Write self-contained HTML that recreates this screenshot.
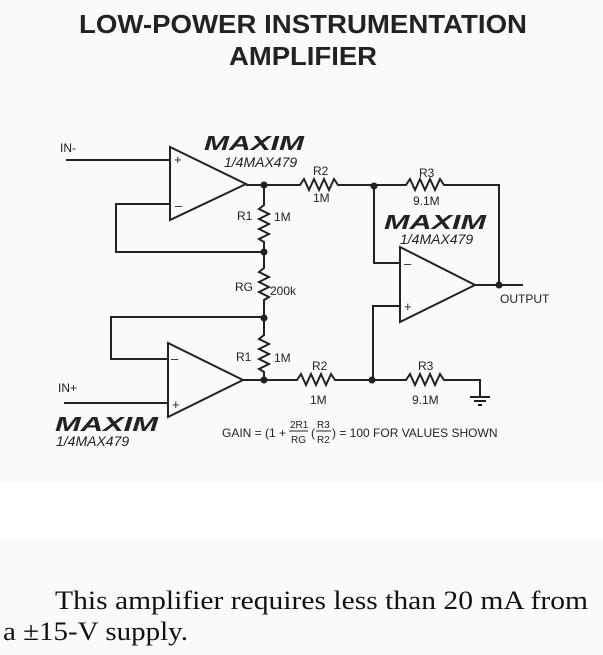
<!DOCTYPE html>
<html><head><meta charset="utf-8"><style>
html,body{margin:0;padding:0;}
body{width:603px;height:655px;position:relative;background:#fafafa;overflow:hidden;}
</style></head><body>
<div style="position:absolute;left:0;top:482px;width:603px;height:56px;background:#fff"></div>
<svg width="603" height="655" style="position:absolute;left:0;top:0" font-family="Liberation Sans, sans-serif">
<g font-weight="bold" fill="#222" font-size="26">
<text x="303" y="33" text-anchor="middle" textLength="448" lengthAdjust="spacingAndGlyphs">LOW-POWER INSTRUMENTATION</text>
<text x="303" y="65" text-anchor="middle" textLength="148" lengthAdjust="spacingAndGlyphs">AMPLIFIER</text>
</g>
<g stroke="#222" stroke-width="2" fill="none" stroke-linejoin="miter">
<path d="M170 147 L170 220 L246 184 Z"/>
<path d="M66 160 H170"/>
<path d="M170 204 H116 V252 H264"/>
<path d="M246 185 H264 V205 l-5 4 l10 5 l-10 5 l10 5 l-10 5 l10 5 l-10 5 l5 3 V268 l-5 4 l10 5 l-10 5 l10 5 l-10 5 l10 5 l-5 3 V318"/>
<path d="M264 185 H300 l4 -6 l5 11 l5 -11 l5 11 l5 -11 l5 11 l5 -11 l4 6 H374 H406 l4 -6 l5 11 l5 -11 l5 11 l5 -11 l5 11 l5 -11 l4 6 H499 V285"/>
<path d="M400 247 L400 322 L475 285 Z"/>
<path d="M475 285 H523"/>
<path d="M374 187 V263 H400"/>
<path d="M400 306 H373 V380"/>
<path d="M168 343 L168 417 L243 380 Z"/>
<path d="M64 403 H168"/>
<path d="M168 359 H111 V317 H264 V335 l-5 4 l10 5 l-10 5 l10 5 l-10 5 l10 5 l-10 5 l5 3 V380"/>
<path d="M243 380 H297 l4 -6 l5 11 l5 -11 l5 11 l5 -11 l5 11 l5 -11 l4 6 H406 l4 -6 l5 11 l5 -11 l5 11 l5 -11 l5 11 l5 -11 l4 6 H480 V397"/>
<path d="M470 397 H490 M474 401 H486 M478 405 H482"/>
</g>
<g fill="#222">
<circle cx="264" cy="185" r="3.5"/><circle cx="264" cy="252" r="3.5"/><circle cx="264" cy="318" r="3.5"/><circle cx="264" cy="380" r="3.5"/>
<circle cx="374" cy="186" r="3.5"/><circle cx="372" cy="380" r="3.5"/><circle cx="499" cy="285" r="3.5"/>
</g>
<g fill="#222" font-size="12">
<text x="60" y="152">IN-</text>
<text x="58" y="392">IN+</text>
<text x="174" y="164" font-size="13">+</text><text x="175" y="210" font-size="13">–</text>
<text x="171" y="363" font-size="13">–</text><text x="172" y="409" font-size="13">+</text>
<text x="404" y="268" font-size="13">–</text><text x="404" y="311" font-size="13">+</text>
<text x="313" y="175">R2</text><text x="313" y="202">1M</text>
<text x="419" y="177">R3</text><text x="413" y="205">9.1M</text>
<text x="237" y="220">R1</text><text x="274" y="221">1M</text>
<text x="235" y="291">RG</text><text x="270" y="295">200k</text>
<text x="236" y="361">R1</text><text x="274" y="362">1M</text>
<text x="312" y="370">R2</text><text x="310" y="404">1M</text>
<text x="418" y="370">R3</text><text x="412" y="404">9.1M</text>
<text x="500" y="303">OUTPUT</text>
<text x="222" y="437">GAIN = (1 +</text>
<text x="290" y="428" font-size="10">2R1</text><line x1="289" y1="431" x2="308" y2="431" stroke="#222"/><text x="291" y="443" font-size="10">RG</text>
<text x="311" y="437">(</text><text x="317" y="428" font-size="10">R3</text><line x1="316" y1="431" x2="331" y2="431" stroke="#222"/><text x="317" y="443" font-size="10">R2</text><text x="332" y="437">) = 100 FOR VALUES SHOWN</text>
<g font-style="italic" font-size="14">
<text x="224" y="167">1/4MAX479</text>
<text x="400" y="244">1/4MAX479</text>
<text x="56" y="446">1/4MAX479</text>
</g>
<g font-style="italic" font-weight="bold" font-size="20">
<text x="204" y="150" textLength="100" lengthAdjust="spacingAndGlyphs">MAXIM</text>
<text x="384" y="229" textLength="102" lengthAdjust="spacingAndGlyphs">MAXIM</text>
<text x="55" y="431" textLength="103" lengthAdjust="spacingAndGlyphs">MAXIM</text>
</g>
</g>
<g font-family="Liberation Serif, serif" font-size="26" fill="#111">
<text x="55" y="609" textLength="533" lengthAdjust="spacingAndGlyphs">This amplifier requires less than 20 mA from</text>
<text x="3" y="640" textLength="185" lengthAdjust="spacingAndGlyphs">a ±15-V supply.</text>
</g>
</svg>
</body></html>
